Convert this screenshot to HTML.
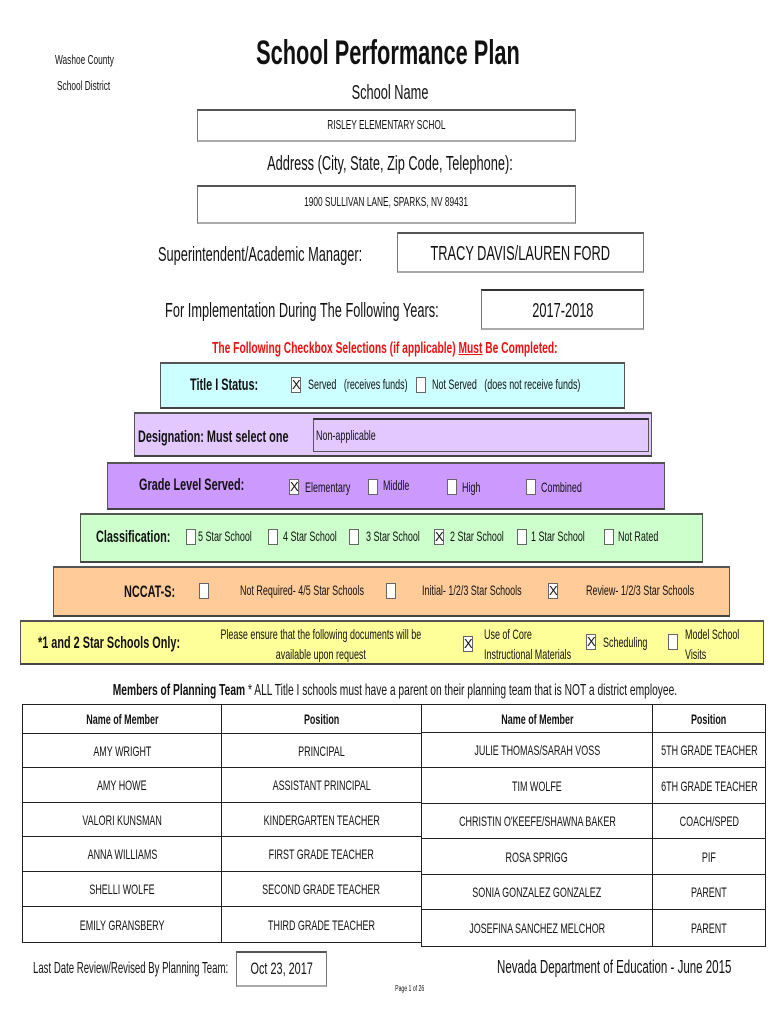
<!DOCTYPE html>
<html><head><meta charset="utf-8"><style>
body{margin:0;width:770px;height:1024px;background:#fff;position:relative;overflow:hidden;font-family:"Liberation Sans",sans-serif;color:#111}
.a{position:absolute;white-space:nowrap}
.c{position:absolute;text-align:center;white-space:nowrap}
.c>span{display:inline-block;transform:scaleX(.64);transform-origin:center;margin:0 -300px}
.l>span{display:inline-block;transform:scaleX(.64);transform-origin:left}
.b{font-weight:bold}
.box{position:absolute;border:1px solid #777;border-top:2px solid #555;border-bottom:2px solid #aaa;box-sizing:border-box;background:#fff}
.band{position:absolute;box-sizing:border-box;border:1px solid #555;border-top:2px solid #555;border-bottom:2px solid #444}
.cb{position:absolute;width:10px;height:16px;border:1px solid #666;background:#fff;box-sizing:border-box;font-size:13px;line-height:14px;text-align:center}
table{position:absolute;border-collapse:collapse;table-layout:fixed}
td{border:1.5px solid #222;text-align:center;font-size:14px;padding:0;overflow:visible;white-space:nowrap}
td span{display:inline-block;transform:scaleX(.64);margin:0 -100px}
</style></head><body>
<div class="a l" style="left:55px;top:52px;font-size:13px"><span>Washoe County</span></div>
<div class="a l" style="left:57px;top:78px;font-size:13px"><span>School District</span></div>
<div class="c b" style="left:188px;width:400px;top:34px;font-size:34px"><span>School Performance Plan</span></div>
<div class="c" style="left:190px;width:400px;top:82px;font-size:20px"><span>School Name</span></div>
<div class="box" style="left:197px;top:109px;width:379px;height:33px"></div>
<div class="c" style="left:197px;width:379px;top:117px;font-size:13px"><span>RISLEY ELEMENTARY SCHOL</span></div>
<div class="c" style="left:190px;width:400px;top:153px;font-size:20px"><span>Address (City, State, Zip Code, Telephone):</span></div>
<div class="box" style="left:197px;top:185px;width:379px;height:39px"></div>
<div class="c" style="left:197px;width:379px;top:194px;font-size:13px"><span>1900 SULLIVAN LANE, SPARKS, NV 89431</span></div>
<div class="a l" style="left:158px;top:244px;font-size:20px"><span>Superintendent/Academic Manager:</span></div>
<div class="box" style="left:397px;top:232px;width:247px;height:41px"></div>
<div class="c" style="left:397px;width:247px;top:243px;font-size:20px"><span>TRACY DAVIS/LAUREN FORD</span></div>
<div class="a l" style="left:165px;top:300px;font-size:20px"><span>For Implementation During The Following Years:</span></div>
<div class="box" style="left:481px;top:289px;width:163px;height:41px;border-top-color:#333"></div>
<div class="c" style="left:481px;width:163px;top:300px;font-size:20px"><span>2017-2018</span></div>
<div class="c b" style="left:135px;width:500px;top:340px;font-size:16px;color:#f01010"><span>The Following Checkbox Selections (if applicable) <u>Must</u> Be Completed:</span></div>

<div class="band" style="left:160px;top:362px;width:465px;height:47px;background:#ccffff"></div>
<div class="a l b" style="left:190px;top:375px;font-size:17px"><span>Title I Status:</span></div>
<div class="cb" style="left:291px;top:377px">X</div>
<div class="a l" style="left:308px;top:376px;font-size:14px"><span>Served &nbsp;&nbsp;(receives funds)</span></div>
<div class="cb" style="left:416px;top:377px"></div>
<div class="a l" style="left:432px;top:376px;font-size:14px"><span>Not Served &nbsp;&nbsp;(does not receive funds)</span></div>

<div class="band" style="left:134px;top:412px;width:518px;height:45px;background:#e3c8ff"></div>
<div class="a l b" style="left:138px;top:427px;font-size:17px"><span>Designation: Must select one</span></div>
<div style="position:absolute;left:313px;top:418px;width:336px;height:34px;border:1px solid #555;border-top:2px solid #333;box-sizing:border-box"></div>
<div class="a l" style="left:316px;top:427px;font-size:14px"><span>Non-applicable</span></div>

<div class="band" style="left:107px;top:462px;width:558px;height:48px;background:#cc99ff"></div>
<div class="a l b" style="left:139px;top:475px;font-size:17px"><span>Grade Level Served:</span></div>
<div class="cb" style="left:289px;top:479px">X</div>
<div class="a l" style="left:305px;top:479px;font-size:14px"><span>Elementary</span></div>
<div class="cb" style="left:368px;top:479px"></div>
<div class="a l" style="left:383px;top:477px;font-size:14px"><span>Middle</span></div>
<div class="cb" style="left:447px;top:479px"></div>
<div class="a l" style="left:462px;top:479px;font-size:14px"><span>High</span></div>
<div class="cb" style="left:526px;top:479px"></div>
<div class="a l" style="left:541px;top:479px;font-size:14px"><span>Combined</span></div>

<div class="band" style="left:80px;top:513px;width:623px;height:50px;background:#ccffcc"></div>
<div class="a l b" style="left:96px;top:527px;font-size:17px"><span>Classification:</span></div>
<div class="cb" style="left:186px;top:529px"></div><div class="a l" style="left:198px;top:528px;font-size:14px"><span>5 Star School</span></div>
<div class="cb" style="left:268px;top:529px"></div><div class="a l" style="left:283px;top:528px;font-size:14px"><span>4 Star School</span></div>
<div class="cb" style="left:349px;top:529px"></div><div class="a l" style="left:366px;top:528px;font-size:14px"><span>3 Star School</span></div>
<div class="cb" style="left:434px;top:529px">X</div><div class="a l" style="left:450px;top:528px;font-size:14px"><span>2 Star School</span></div>
<div class="cb" style="left:517px;top:529px"></div><div class="a l" style="left:531px;top:528px;font-size:14px"><span>1 Star School</span></div>
<div class="cb" style="left:604px;top:529px"></div><div class="a l" style="left:618px;top:528px;font-size:14px"><span>Not Rated</span></div>

<div class="band" style="left:53px;top:566px;width:677px;height:51px;background:#ffcc99"></div>
<div class="a l b" style="left:124px;top:582px;font-size:17px"><span>NCCAT-S:</span></div>
<div class="cb" style="left:199px;top:583px"></div><div class="a l" style="left:240px;top:582px;font-size:14px"><span>Not Required- 4/5 Star Schools</span></div>
<div class="cb" style="left:386px;top:583px"></div><div class="a l" style="left:422px;top:582px;font-size:14px"><span>Initial- 1/2/3 Star Schools</span></div>
<div class="cb" style="left:548px;top:583px">X</div><div class="a l" style="left:586px;top:582px;font-size:14px"><span>Review- 1/2/3 Star Schools</span></div>

<div class="band" style="left:20px;top:620px;width:744px;height:45px;background:#ffff99"></div>
<div class="a l b" style="left:38px;top:633px;font-size:17px"><span>*1 and 2 Star Schools Only:</span></div>
<div class="c" style="left:196px;width:250px;top:624px;font-size:14px;line-height:20px"><span>Please ensure that the following documents will be<br>available upon request</span></div>
<div class="cb" style="left:463px;top:636px">X</div>
<div class="a l" style="left:484px;top:624px;font-size:14px;line-height:20px"><span>Use of Core<br>Instructional Materials</span></div>
<div class="cb" style="left:586px;top:634px">X</div><div class="a l" style="left:603px;top:634px;font-size:14px"><span>Scheduling</span></div>
<div class="cb" style="left:668px;top:634px"></div>
<div class="a l" style="left:685px;top:624px;font-size:14px;line-height:20px"><span>Model School<br>Visits</span></div>

<div class="c" style="left:35px;width:720px;top:682px;font-size:16px"><span><b>Members of Planning Team</b> * ALL Title I schools must have a parent on their planning team that is NOT a district employee.</span></div>

<table style="left:22px;top:704px;width:399px">
<colgroup><col style="width:199px"><col style="width:200px"></colgroup>
<tr style="height:29px"><td><b><span>Name of Member</span></b></td><td><b><span>Position</span></b></td></tr>
<tr style="height:34px"><td><span>AMY WRIGHT</span></td><td><span>PRINCIPAL</span></td></tr>
<tr style="height:35px"><td><span>AMY HOWE</span></td><td><span>ASSISTANT PRINCIPAL</span></td></tr>
<tr style="height:34px"><td><span>VALORI KUNSMAN</span></td><td><span>KINDERGARTEN TEACHER</span></td></tr>
<tr style="height:35px"><td><span>ANNA WILLIAMS</span></td><td><span>FIRST GRADE TEACHER</span></td></tr>
<tr style="height:35px"><td><span>SHELLI WOLFE</span></td><td><span>SECOND GRADE TEACHER</span></td></tr>
<tr style="height:36px"><td><span>EMILY GRANSBERY</span></td><td><span>THIRD GRADE TEACHER</span></td></tr>
</table>
<table style="left:421px;top:704px;width:344px">
<colgroup><col style="width:231px"><col style="width:113px"></colgroup>
<tr style="height:28px"><td><b><span>Name of Member</span></b></td><td><b><span>Position</span></b></td></tr>
<tr style="height:35px"><td><span>JULIE THOMAS/SARAH VOSS</span></td><td><span>5TH GRADE TEACHER</span></td></tr>
<tr style="height:36px"><td><span>TIM WOLFE</span></td><td><span>6TH GRADE TEACHER</span></td></tr>
<tr style="height:35px"><td><span>CHRISTIN O'KEEFE/SHAWNA BAKER</span></td><td><span>COACH/SPED</span></td></tr>
<tr style="height:36px"><td><span>ROSA SPRIGG</span></td><td><span>PIF</span></td></tr>
<tr style="height:35px"><td><span>SONIA GONZALEZ GONZALEZ</span></td><td><span>PARENT</span></td></tr>
<tr style="height:37px"><td><span>JOSEFINA SANCHEZ MELCHOR</span></td><td><span>PARENT</span></td></tr>
</table>

<div class="a l" style="left:33px;top:960px;font-size:16px"><span style="transform:scaleX(.6)">Last Date Review/Revised By Planning Team:</span></div>
<div class="box" style="left:236px;top:951px;width:91px;height:36px"></div>
<div class="c" style="left:236px;width:91px;top:959px;font-size:17px"><span>Oct 23, 2017</span></div>
<div class="a l" style="left:497px;top:957px;font-size:18px"><span>Nevada Department of Education - June 2015</span></div>
<div class="c" style="left:370px;width:80px;top:984px;font-size:8px"><span>Page 1 of 26</span></div>
</body></html>
